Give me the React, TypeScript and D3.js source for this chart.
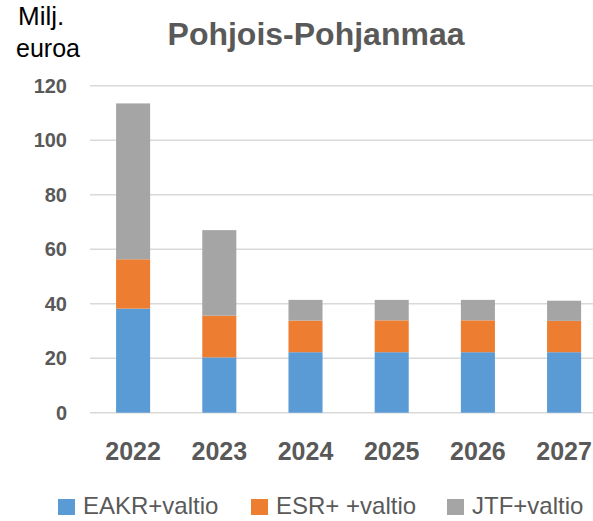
import React from "react";
import * as d3 from "d3";

const years = ["2022", "2023", "2024", "2025", "2026", "2027"];
const eakr = [38.2, 20.3, 22.2, 22.2, 22.2, 22.2];
const esr = [18.1, 15.3, 11.6, 11.7, 11.7, 11.5];
const jtf = [57.2, 31.4, 7.6, 7.5, 7.5, 7.4];
const seriesNames = ["EAKR+valtio", "ESR+ +valtio", "JTF+valtio"];
const seriesColors = ["#5B9BD5", "#ED7D31", "#A5A5A5"];
const yTicks = [0, 20, 40, 60, 80, 100, 120];

const W = 593;
const H = 521;
const FONT = "'Liberation Sans', Arial, sans-serif";

export default function App() {
  const table = years.map((y, i) => ({ year: y, a: eakr[i], b: esr[i], c: jtf[i] }));
  const stack = d3.stack<any>().keys(["a", "b", "c"])(table);

  const x = d3
    .scaleBand<string>()
    .domain(years)
    .range([90, 607.2])
    .paddingInner(0.605)
    .paddingOuter(0.3025);
  const y = d3.scaleLinear().domain([0, 120]).range([412.7, 85.7]);

  const legendX = [58, 251, 447];

  return (
    <svg
      width={W}
      height={H}
      style={{ position: "absolute", left: 0, top: 0, background: "#fff" }}
      fontFamily={FONT}
    >
      <text x={18} y={25} fontSize={26} fill="#000">Milj.</text>
      <text x={16} y={57} fontSize={25} fill="#000">euroa</text>
      <text x={316} y={45} fontSize={32} fontWeight="bold" fill="#595959" textAnchor="middle">
        Pohjois-Pohjanmaa
      </text>

      {yTicks.map((t) => (
        <g key={t}>
          <line x1={90} x2={593} y1={y(t)} y2={y(t)} stroke="#D9D9D9" strokeWidth={1.5} />
          <text
            x={67}
            y={y(t) + 7}
            fontSize={20}
            fontWeight="bold"
            fill="#595959"
            textAnchor="end"
          >
            {t}
          </text>
        </g>
      ))}

      {stack.map((s, si) => (
        <g key={si} fill={seriesColors[si]}>
          {s.map((d: any, i: number) => (
            <rect
              key={i}
              x={x(years[i])}
              width={x.bandwidth()}
              y={y(d[1])}
              height={y(d[0]) - y(d[1])}
            />
          ))}
        </g>
      ))}

      {years.map((yr) => (
        <text
          key={yr}
          x={(x(yr) as number) + x.bandwidth() / 2}
          y={460}
          fontSize={25}
          fontWeight="bold"
          fill="#595959"
          textAnchor="middle"
        >
          {yr}
        </text>
      ))}

      {seriesNames.map((n, i) => (
        <g key={n}>
          <rect x={legendX[i]} y={499} width={17} height={16} fill={seriesColors[i]} />
          <text x={legendX[i] + 25} y={514} fontSize={24} fill="#595959">
            {n}
          </text>
        </g>
      ))}
    </svg>
  );
}
